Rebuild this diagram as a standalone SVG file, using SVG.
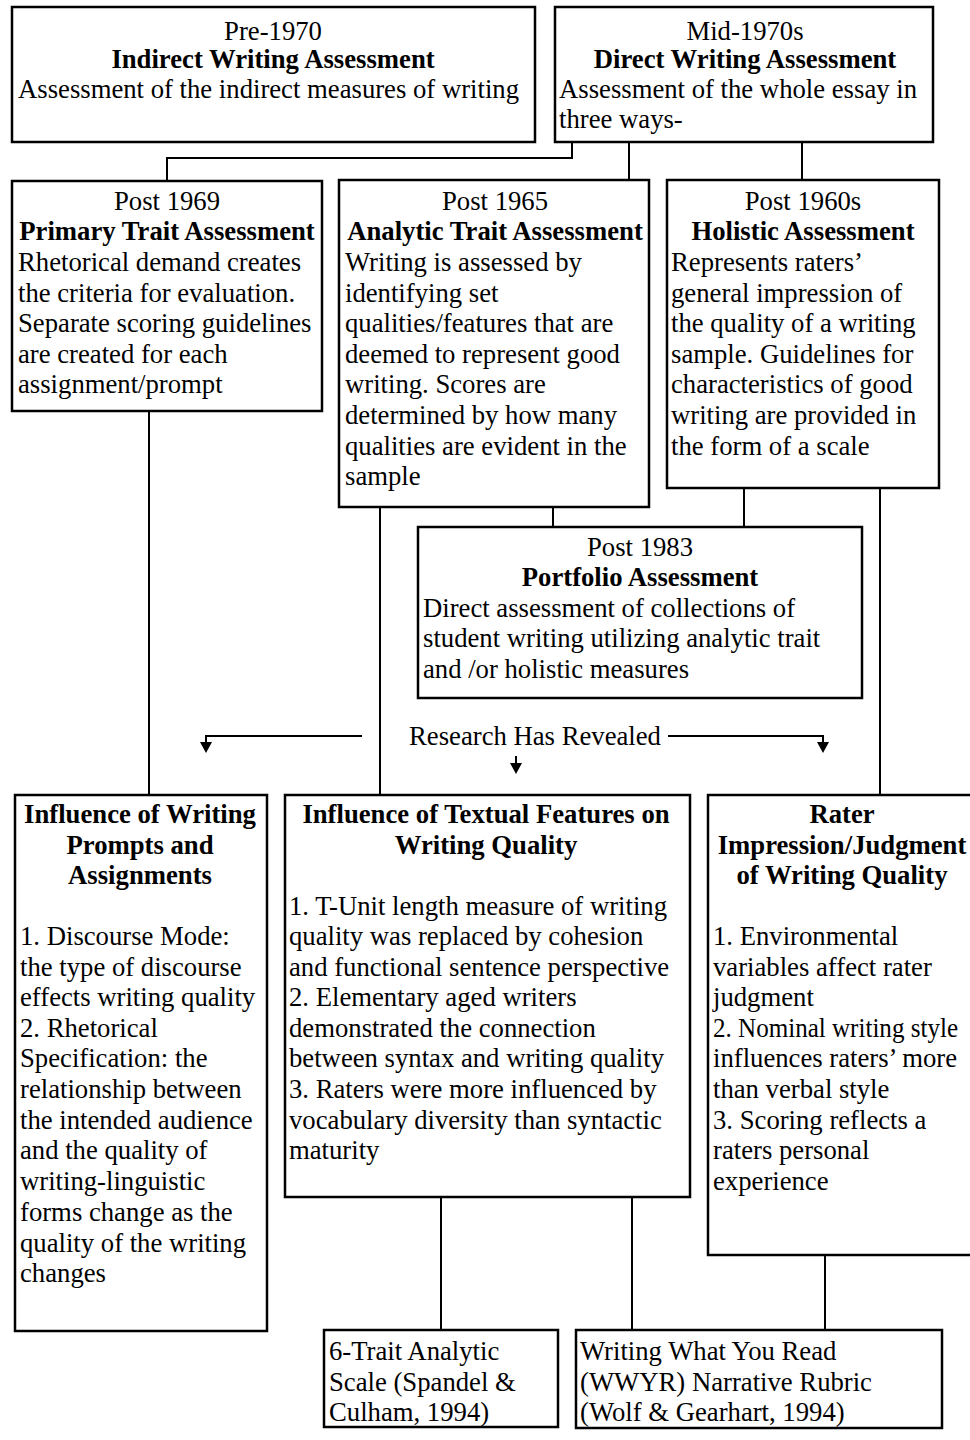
<svg xmlns="http://www.w3.org/2000/svg" width="970" height="1440" viewBox="0 0 970 1440" font-family="'Liberation Serif', Tinos, 'Times New Roman', serif">
<style>
.box{fill:#fff;stroke:#000;stroke-width:2.5}
.ln{fill:none;stroke:#000;stroke-width:2}
text{font-family:'Liberation Serif',Tinos,'Times New Roman',serif;font-size:26.7px;fill:#000}
.c{text-anchor:middle}
.b{font-weight:bold}
</style>
<defs>
<marker id="ah" viewBox="0 0 11 12" refX="0" refY="6" markerWidth="11" markerHeight="12" orient="auto" markerUnits="userSpaceOnUse">
<path d="M0,0 L11,6 L0,12 Z" fill="#000"/>
</marker>
</defs>
<rect width="970" height="1440" fill="#fff"/>
<g id="connectors">
<path class="ln" d="M572,142 V158 H167 V181"/>
<path class="ln" d="M629,142 V181"/>
<path class="ln" d="M802,142 V181"/>
<path class="ln" d="M149,411 V795"/>
<path class="ln" d="M380,507 V795"/>
<path class="ln" d="M553,507 V527"/>
<path class="ln" d="M744,488 V527"/>
<path class="ln" d="M880,488 V795"/>
<path class="ln" d="M362,736 H206 V742" marker-end="url(#ah)"/>
<path class="ln" d="M668,736 H823 V742" marker-end="url(#ah)"/>
<path class="ln" d="M516,756 V763" marker-end="url(#ah)"/>
<path class="ln" d="M441,1197 V1330"/>
<path class="ln" d="M632,1197 V1330"/>
<path class="ln" d="M825,1255 V1330"/>
</g>
<g id="label-research">
<text class="c" x="535" y="745">Research Has Revealed</text>
</g>
<g id="pre1970">
<rect class="box" x="12" y="7" width="523" height="135"/>
<text class="c" x="273" y="40">Pre-1970</text>
<text class="c b" x="273" y="68">Indirect Writing Assessment</text>
<text x="18" y="98">Assessment of the indirect measures of writing</text>
</g>
<g id="mid1970s">
<rect class="box" x="555" y="7" width="378" height="135"/>
<text class="c" x="745" y="40">Mid-1970s</text>
<text class="c b" x="745" y="68">Direct Writing Assessment</text>
<text x="559" y="98">Assessment of the whole essay in</text>
<text x="559" y="128">three ways-</text>
</g>
<g id="primary">
<rect class="box" x="12" y="181" width="310" height="230"/>
<text class="c" x="167" y="210">Post 1969</text>
<text class="c b" x="167" y="240">Primary Trait Assessment</text>
<text x="18" y="271">Rhetorical demand creates</text>
<text x="18" y="302">the criteria for evaluation.</text>
<text x="18" y="332">Separate scoring guidelines</text>
<text x="18" y="363">are created for each</text>
<text x="18" y="393">assignment/prompt</text>
</g>
<g id="analytic">
<rect class="box" x="339" y="180" width="310" height="327"/>
<text class="c" x="495" y="210">Post 1965</text>
<text class="c b" x="495" y="240">Analytic Trait Assessment</text>
<text x="345" y="271">Writing is assessed by</text>
<text x="345" y="302">identifying set</text>
<text x="345" y="332">qualities/features that are</text>
<text x="345" y="363">deemed to represent good</text>
<text x="345" y="393">writing. Scores are</text>
<text x="345" y="424">determined by how many</text>
<text x="345" y="455">qualities are evident in the</text>
<text x="345" y="485">sample</text>
</g>
<g id="holistic">
<rect class="box" x="667" y="180" width="272" height="308"/>
<text class="c" x="803" y="210">Post 1960s</text>
<text class="c b" x="803" y="240">Holistic Assessment</text>
<text x="671" y="271">Represents raters’</text>
<text x="671" y="302">general impression of</text>
<text x="671" y="332">the quality of a writing</text>
<text x="671" y="363">sample. Guidelines for</text>
<text x="671" y="393">characteristics of good</text>
<text x="671" y="424">writing are provided in</text>
<text x="671" y="455">the form of a scale</text>
</g>
<g id="portfolio">
<rect class="box" x="418" y="527" width="444" height="171"/>
<text class="c" x="640" y="556">Post 1983</text>
<text class="c b" x="640" y="586">Portfolio Assessment</text>
<text x="423" y="617">Direct assessment of collections of</text>
<text x="423" y="647">student writing utilizing analytic trait</text>
<text x="423" y="678">and /or holistic measures</text>
</g>
<g id="prompts">
<rect class="box" x="15" y="795" width="252" height="536"/>
<text class="c b" x="140" y="823">Influence of Writing</text>
<text class="c b" x="140" y="854">Prompts and</text>
<text class="c b" x="140" y="884">Assignments</text>
<text x="20" y="945">1. Discourse Mode:</text>
<text x="20" y="976">the type of discourse</text>
<text x="20" y="1006">effects writing quality</text>
<text x="20" y="1037">2. Rhetorical</text>
<text x="20" y="1067">Specification: the</text>
<text x="20" y="1098">relationship between</text>
<text x="20" y="1129">the intended audience</text>
<text x="20" y="1159">and the quality of</text>
<text x="20" y="1190">writing-linguistic</text>
<text x="20" y="1221">forms change as the</text>
<text x="20" y="1252">quality of the writing</text>
<text x="20" y="1282">changes</text>
</g>
<g id="textual">
<rect class="box" x="285" y="795" width="405" height="402"/>
<text class="c b" x="486" y="823">Influence of Textual Features on</text>
<text class="c b" x="486" y="854">Writing Quality</text>
<text x="289" y="915">1. T-Unit length measure of writing</text>
<text x="289" y="945">quality was replaced by cohesion</text>
<text x="289" y="976">and functional sentence perspective</text>
<text x="289" y="1006">2. Elementary aged writers</text>
<text x="289" y="1037">demonstrated the connection</text>
<text x="289" y="1067">between syntax and writing quality</text>
<text x="289" y="1098">3. Raters were more influenced by</text>
<text x="289" y="1129">vocabulary diversity than syntactic</text>
<text x="289" y="1159">maturity</text>
</g>
<g id="rater">
<rect class="box" x="708" y="795" width="280" height="460"/>
<text class="c b" x="842" y="823">Rater</text>
<text class="c b" x="842" y="854">Impression/Judgment</text>
<text class="c b" x="842" y="884">of Writing Quality</text>
<text x="713" y="945">1. Environmental</text>
<text x="713" y="976">variables affect rater</text>
<text x="713" y="1006">judgment</text>
<text x="713" y="1037" textLength="245" lengthAdjust="spacingAndGlyphs">2. Nominal writing style</text>
<text x="713" y="1067">influences raters’ more</text>
<text x="713" y="1098">than verbal style</text>
<text x="713" y="1129">3. Scoring reflects a</text>
<text x="713" y="1159">raters personal</text>
<text x="713" y="1190">experience</text>
</g>
<g id="sixtrait">
<rect class="box" x="324" y="1330" width="234" height="97"/>
<text x="329" y="1360">6-Trait Analytic</text>
<text x="329" y="1391">Scale (Spandel &amp;</text>
<text x="329" y="1421">Culham, 1994)</text>
</g>
<g id="wwyr">
<rect class="box" x="576" y="1330" width="366" height="98"/>
<text x="580" y="1360">Writing What You Read</text>
<text x="580" y="1391">(WWYR) Narrative Rubric</text>
<text x="580" y="1421">(Wolf &amp; Gearhart, 1994)</text>
</g>
</svg>
